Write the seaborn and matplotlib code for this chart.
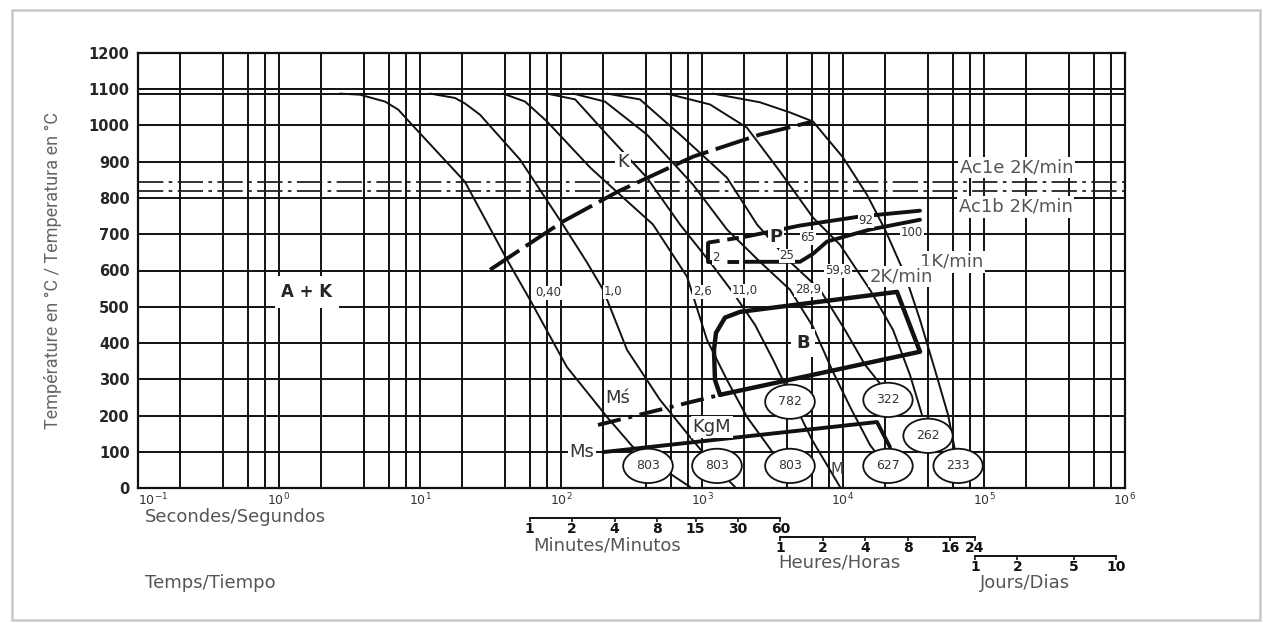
import matplotlib
matplotlib.use('Agg')
import matplotlib.pyplot as plt
import matplotlib.transforms as mtransforms
from matplotlib.patches import Rectangle
from matplotlib.ticker import FixedLocator, NullFormatter, NullLocator
import seaborn as sns

# ---- cooling curves: time (s) / temperature (°C) ----
c1_t = [2.7, 3.75, 5.65, 7.0, 8.5, 20.8, 41.4, 60.3, 110, 212, 324, 504, 822]
c1_T = [1088, 1085, 1066, 1044, 1008, 845, 630, 519, 334, 196, 113, 58, 3]
c2_t = [11.8, 17.7, 20.8, 26.6, 51.2, 103, 153, 199, 294, 504, 822, 1236, 1714]
c2_T = [1088, 1076, 1061, 1030, 906, 727, 622, 547, 381, 243, 141, 58, 3]
c3_t = [38.8, 55.6, 79.6, 161, 262, 449, 783, 1084, 1504, 2084, 3190, 4571]
c3_T = [1088, 1066, 1011, 884, 809, 727, 583, 409, 298, 196, 97, 22]
c4_t = [79.6, 126, 212, 407, 698, 1178, 1660, 2377, 3190, 4207, 6026, 9527]
c4_T = [1088, 1072, 975, 856, 727, 616, 539, 450, 354, 257, 133, 3]
c5_t = [122, 205, 407, 863, 1504, 2577, 4207, 6124, 8356, 11220, 15530, 19860]
c5_T = [1088, 1066, 975, 837, 713, 624, 547, 445, 326, 224, 119, 64]
c6_t = [212, 363, 698, 1504, 2455, 4207, 6871, 10330, 14320, 19860]
c6_T = [1088, 1072, 975, 856, 727, 624, 547, 436, 340, 271]
c7_t = [565, 1140, 2084, 3573, 6124, 9527, 15530, 22650, 29850, 36310]
c7_T = [1088, 1058, 994, 873, 746, 671, 547, 436, 312, 202]
c8_t = [1197, 2577, 4207, 6124, 10000, 14790, 19860, 27540, 35160, 44870, 55590, 62230]
c8_T = [1088, 1064, 1036, 1011, 912, 809, 713, 588, 464, 326, 202, 105]

# ---- transformation boundaries ----
k_t = [31.4, 103, 254, 863, 2577, 6124]
k_T = [602, 735, 818, 914, 975, 1011]
p_top_dash_t = [1104, 2018]
p_top_dash_T = [677, 693]
p_top_t = [2018, 4955, 13210, 35160]
p_top_T = [693, 724, 749, 765]
p_left_t = [1104, 1104]
p_left_T = [677, 624]
p_low_dash_t = [1104, 2018]
p_low_dash_T = [624, 624]
p_low_t = [2018, 4955, 6124, 7709, 15530, 35160]
p_low_T = [624, 624, 646, 680, 713, 740]
b_t = [1343, 1236, 1216, 1257, 1455, 1862, 24150, 35160, 1343]
b_T = [257, 298, 381, 428, 470, 486, 541, 376, 257]
ms2_t = [183, 1343]
ms2_T = [174, 257]
ms_t = [199, 17420, 21530]
ms_T = [99, 182, 113]

austenit_T = 1088
ac1e_T = 845
ac1b_T = 818

# ---- hardness values (HV) at end of curves ----
hv_t = [414, 1277, 4207, 4207, 20840, 40070, 20840, 65460]
hv_T = [61, 61, 61, 238, 243, 144, 61, 61]
hv_lab = ['803', '803', '803', '782', '322', '262', '627', '233']

# ---- small numbers on curves ----
num_t = [80.9, 234, 1000, 2018, 5650, 9220, 1257, 4010, 5650, 14560, 30830]
num_T = [539, 541, 541, 544, 547, 599, 635, 641, 691, 738, 704]
num_lab = ['0,40', '1,0', '2,6', '11,0', '28,9', '59,8', '2', '25', '65', '92', '100']

decades = [0.1, 1, 10, 100, 1e3, 1e4, 1e5, 1e6]
minor_mult = [2, 4, 6, 8]
y_ticks = list(range(0, 1201, 100))
min_ticks = [1, 2, 4, 8, 15, 30, 60]
hour_ticks = [1, 2, 4, 8, 16, 24]
day_ticks = [1, 2, 5, 10]

sns.set_style('white')
plt.rcParams['font.family'] = ['DejaVu Sans']

fig = plt.figure(figsize=(12.66, 6.24), dpi=100)
ax = fig.add_axes([138 / 1266, 1 - 488 / 624, 987 / 1266, 435 / 624])
ax.set_xscale('log')
ax.set_xlim(0.1, 1e6)
ax.set_ylim(0, 1200)

ink = '#111111'
ax.xaxis.set_major_locator(FixedLocator(decades))
ax.xaxis.set_minor_locator(FixedLocator([m * d for d in decades[:-1] for m in minor_mult]))
ax.xaxis.set_minor_formatter(NullFormatter())
ax.set_yticks(y_ticks)
ax.grid(True, which='both', axis='x', color=ink, lw=1.4)
ax.grid(True, which='major', axis='y', color=ink, lw=1.4)
ax.set_axisbelow(True)
ax.tick_params(which='both', length=0)
ax.tick_params(axis='x', labelsize=9, pad=3, labelcolor='#333')
ax.tick_params(axis='y', labelsize=10.5, pad=6)
for lbl in ax.get_yticklabels():
    lbl.set_fontweight('bold')
ax.get_xticklabels()[0].set_horizontalalignment('left')
for s in ax.spines.values():
    s.set_color(ink)
    s.set_linewidth(1.6)

# horizontal reference lines
ax.axhline(austenit_T, color=ink, lw=1.4)
ax.axhline(ac1e_T, color='#222', lw=1.3, ls=(0, (14, 3, 2, 3)))
ax.axhline(ac1b_T, color='#222', lw=1.3, ls=(0, (14, 3, 2, 3)))

# cooling curves
for t, T in [(c1_t, c1_T), (c2_t, c2_T), (c3_t, c3_T), (c4_t, c4_T),
             (c5_t, c5_T), (c6_t, c6_T), (c7_t, c7_T), (c8_t, c8_T)]:
    sns.lineplot(x=t, y=T, ax=ax, color=ink, lw=1.4, sort=False, estimator=None)

# boundaries
thick = 2.8
sns.lineplot(x=k_t, y=k_T, ax=ax, color=ink, lw=thick, sort=False, estimator=None,
             linestyle=(0, (9, 2)))
ax.plot(p_top_dash_t, p_top_dash_T, color=ink, lw=thick, ls=(0, (3, 2)))
ax.plot(p_top_t, p_top_T, color=ink, lw=thick)
ax.plot(p_left_t, p_left_T, color=ink, lw=thick)
ax.plot(p_low_dash_t, p_low_dash_T, color=ink, lw=thick, ls=(0, (3, 2)))
ax.plot(p_low_t, p_low_T, color=ink, lw=thick)
ax.plot(b_t, b_T, color=ink, lw=3.2, solid_joinstyle='round')
ax.plot(ms2_t, ms2_T, color=ink, lw=thick, ls=(0, (6, 2, 1, 2)))
ax.plot(ms_t, ms_T, color=ink, lw=thick)

# labels inside the diagram
wbox = dict(boxstyle='square,pad=0.1', fc='white', ec='none')
ax.text(275, 898, 'K', fontsize=13, color='#333', ha='center', va='center', bbox=wbox, zorder=5)
ax.text(1.58, 541, 'A + K', fontsize=12, fontweight='bold', ha='center', va='center',
        bbox=dict(boxstyle='square,pad=0.4', fc='white', ec='none'), zorder=5)
ax.text(3350, 693, 'P', fontsize=13, fontweight='bold', ha='center', va='center', bbox=wbox, zorder=5)
ax.text(5200, 400, 'B', fontsize=13, fontweight='bold', ha='center', va='center',
        bbox=dict(boxstyle='square,pad=0.3', fc='white', ec='none'), zorder=5)
ax.text(254, 249, 'Mś', fontsize=13, color='#333', ha='center', va='center', bbox=wbox, zorder=5)
ax.text(1178, 169, 'KgM', fontsize=13, color='#333', ha='center', va='center', bbox=wbox, zorder=5)
ax.text(141, 99, 'Ms', fontsize=13, color='#333', ha='center', va='center', bbox=wbox, zorder=5)
ax.text(9060, 50, 'M', fontsize=11, color='#444', ha='center', va='center', zorder=5)
ax.text(67600, 884, 'Ac1e 2K/min', fontsize=13, color='#555', ha='left', va='center', bbox=wbox, zorder=5)
ax.text(66000, 776, 'Ac1b 2K/min', fontsize=13, color='#555', ha='left', va='center', bbox=wbox, zorder=5)
ax.text(35160, 624, '1K/min', fontsize=13, color='#555', ha='left', va='center', bbox=wbox, zorder=5)
ax.text(15530, 583, '2K/min', fontsize=13, color='#555', ha='left', va='center', bbox=wbox, zorder=5)

for t, T, s in zip(num_t, num_T, num_lab):
    ax.text(t, T, s, fontsize=8.5, color='#333', ha='center', va='center',
            bbox=dict(boxstyle='square,pad=0.05', fc='white', ec='none'), zorder=5)

for t, T, s in zip(hv_t, hv_T, hv_lab):
    ax.text(t, T, s, fontsize=9, color='#333', ha='center', va='center', zorder=6,
            bbox=dict(boxstyle='ellipse,pad=0.45', fc='white', ec=ink, lw=1.3))

ax.set_xlabel('')
ax.set_ylabel('Température en °C / Temperatura en °C', fontsize=13, color='#666',
              family=['Liberation Sans Narrow', 'Roboto', 'DejaVu Sans'])
ax.yaxis.set_label_coords(-0.077, 0.5)

# secondary time scales
def s2min(x): return x / 60
def min2s(x): return x * 60
def s2h(x): return x / 3600
def h2s(x): return x * 3600
def s2d(x): return x / 86400
def d2s(x): return x * 86400

for loc, funcs, ticks in [(-0.069, (s2min, min2s), min_ticks),
                          (-0.113, (s2h, h2s), hour_ticks),
                          (-0.156, (s2d, d2s), day_ticks)]:
    sec = ax.secondary_xaxis(loc, functions=funcs)
    sec.set_xticks(ticks, labels=[str(v) for v in ticks])
    sec.xaxis.set_minor_locator(NullLocator())
    sec.spines['bottom'].set_bounds(ticks[0], ticks[-1])
    sec.spines['bottom'].set_linewidth(1.4)
    sec.spines['bottom'].set_color(ink)
    sec.tick_params(axis='x', length=3, width=1.2, direction='out', labelsize=10, pad=0,
                    colors=ink)
    for lbl in sec.get_xticklabels():
        lbl.set_fontweight('bold')

trans = mtransforms.blended_transform_factory(ax.transData, ax.transAxes)
grey = '#555'
ax.text(0.112, -0.067, 'Secondes/Segundos', transform=trans, fontsize=13, color=grey, va='center')
ax.text(63.3, -0.133, 'Minutes/Minutos', transform=trans, fontsize=13, color=grey, va='center')
ax.text(3459, -0.172, 'Heures/Horas', transform=trans, fontsize=13, color=grey, va='center')
ax.text(93690, -0.218, 'Jours/Dias', transform=trans, fontsize=13, color=grey, va='center')
ax.text(0.112, -0.218, 'Temps/Tiempo', transform=trans, fontsize=13, color=grey, va='center')

fig.patches.append(Rectangle((0.0095, 0.0064), 0.986, 0.978, transform=fig.transFigure,
                             fill=False, ec='#c8c8c8', lw=1.8))

fig.savefig('out.png', dpi=100, facecolor='white')
